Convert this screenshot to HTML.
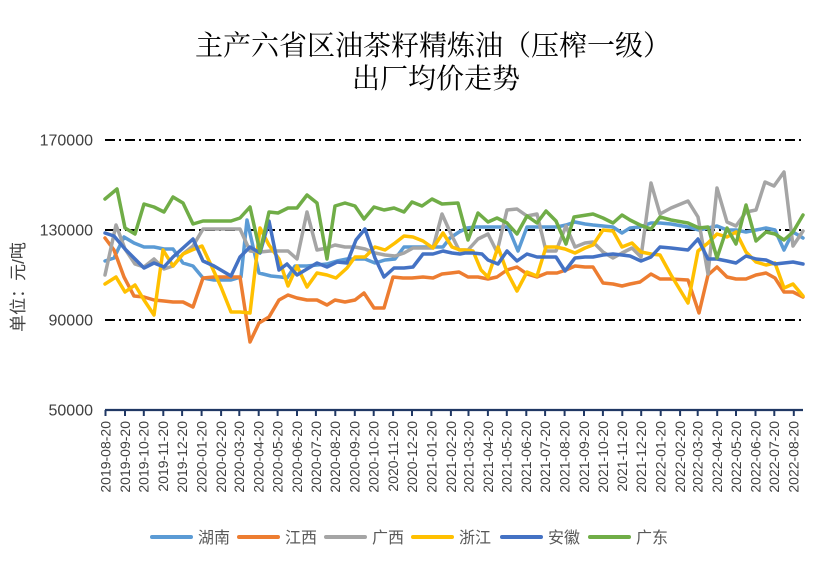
<!DOCTYPE html>
<html><head><meta charset="utf-8"><style>
html,body{margin:0;padding:0;background:#fff;}
svg{display:block;}
.t{font-family:"Noto Serif CJK SC","Liberation Serif",serif;font-size:28px;fill:#000;}
.yl{font-family:"Liberation Sans",sans-serif;font-size:16px;fill:#404040;}
.xl{font-family:"Liberation Sans",sans-serif;font-size:14px;fill:#404040;}
.lg{font-family:"Liberation Sans","Noto Sans CJK SC",sans-serif;font-size:16px;fill:#595959;}
.s{fill:none;stroke-width:3.5;stroke-linejoin:round;stroke-linecap:round;}
</style></head><body>
<svg width="825" height="568" viewBox="0 0 825 568" xmlns="http://www.w3.org/2000/svg">
<rect width="825" height="568" fill="#fff"/>
<text class="t" x="195" y="55">主产六省区油茶籽精炼油（压榨一级）</text>
<text class="t" x="352" y="88">出厂均价走势</text>

<g stroke="#000" stroke-width="2" stroke-dasharray="10,4,2,4">
<line x1="105" y1="140" x2="805" y2="140"/>
<line x1="105" y1="230" x2="805" y2="230"/>
<line x1="105" y1="320" x2="805" y2="320"/>
</g>

<g class="yl" text-anchor="end">
<text x="93" y="145.5">170000</text>
<text x="93" y="235.5">130000</text>
<text x="93" y="325.5">90000</text>
<text x="93" y="415.5">50000</text>
</g>
<text class="lg" style="font-size:17px;fill:#404040" transform="translate(24,287) rotate(-90)" text-anchor="middle">单位：元/吨</text>

<polyline class="s" stroke="#5B9BD5" points="105,261 114,258 124,237 134,243 144,247 154,247 164,249 173,249 183,263 193,266 203,278 214,280 231,280 241,277 247,220 259,273 271,276 281,277 287,278 295,266 307,266 317,265 327,264 337,261 347,259 357,259 365,259 375,263 385,260 395,259 404,247 413,247 423,247 433,247 443,247 450,238 459,232 467,228 475,227 488,227 498,227 508,227 518,251 527,227 537,227 547,227 557,227 566,225 575,222 585,224 593,225 603,226 613,227 622,233 630,228 640,227 651,223 660,223 671,224 688,227 699,230 708,228 717,226 727,230 736,230 746,232 756,230 766,228 775,230 784,250 793,232 803,238"/>
<polyline class="s" stroke="#ED7D31" points="105,238 114,250 124,277 134,296 144,297 154,300 164,301 173,302 183,302 193,307 203,278 214,277 231,277 240,277 250,342 259,323 269,317 279,300 288,295 297,298 307,300 317,300 327,305 335,300 345,302 355,300 364,293 374,308 384,308 393,277 403,278 412,278 423,277 433,278 442,274 451,273 459,272 468,277 478,277 488,279 497,277 507,270 517,267 527,274 537,277 547,273 557,273 566,270 575,266 585,267 593,267 603,283 613,284 622,286 630,284 640,282 651,274 660,279 671,279 688,280 699,313 708,275 717,267 727,277 736,279 746,279 756,275 766,273 775,278 784,292 793,292 803,297"/>
<polyline class="s" stroke="#A5A5A5" points="105,275 116,225 125,249 135,264 144,267 154,259 164,269 173,266 183,254 193,246 203,229 214,229 231,229 240,229 250,251 260,252 270,251 280,251 288,251 297,259 307,212 317,250 327,248 335,245 345,247 355,247 365,249 375,253 385,255 395,256 404,253 413,248 423,248 433,248 442,214 451,234 459,250 468,250 478,239 488,234 497,252 507,210 517,209 527,216 537,214 546,251 556,251 566,226 575,247 585,243 593,242 603,252 613,258 622,253 632,248 641,257 651,183 660,214 671,208 688,201 698,217 708,274 717,188 727,222 736,226 746,212 756,210 765,182 774,186 784,172 793,246 803,231"/>
<polyline class="s" stroke="#FFC000" points="105,284 116,277 125,292 135,285 144,300 154,315 163,250 173,266 183,254 192,250 202,246 211,265 221,287 231,312 240,312 250,313 260,228 269,245 279,259 288,286 297,266 307,287 317,273 327,275 336,278 347,268 355,257 365,257 375,247 385,250 395,243 404,236 413,237 423,241 433,248 443,233 452,247 460,250 465,250 473,251 481,270 488,277 498,247 507,272 517,291 527,272 537,276 546,247 556,247 565,249 575,253 585,248 593,245 603,230 613,231 622,247 632,243 641,252 651,254 660,255 671,275 688,303 698,251 708,243 717,234 727,237 736,232 746,252 756,262 766,265 775,263 784,288 793,284 803,296"/>
<polyline class="s" stroke="#4472C4" points="105,233 114,236 125,249 135,259 144,268 154,263 164,267 173,257 183,248 193,239 203,261 214,266 231,276 240,257 250,247 260,253 269,221 279,270 287,264 297,275 307,269 317,263 327,267 337,262 347,263 356,240 365,229 375,258 384,277 394,268 404,268 413,267 423,254 433,254 443,251 452,253 460,254 465,253 473,253 482,254 488,260 498,264 507,251 517,261 527,254 537,257 547,257 556,257 565,271 575,258 585,257 593,257 603,255 613,254 622,255 630,256 641,261 651,257 660,247 671,248 688,250 698,239 708,259 717,259 727,261 736,263 746,256 756,259 766,260 775,264 784,263 793,262 803,264"/>
<polyline class="s" stroke="#70AD47" points="105,199 117,189 125,228 135,234 144,204 154,207 164,212 173,197 183,203 193,224 203,221 214,221 231,221 240,218 250,207 260,252 269,212 278,213 288,208 297,208 307,195 317,203 327,259 335,206 345,203 355,206 364,219 374,207 384,210 394,208 404,212 412,202 422,206 432,199 442,204 458,203 468,240 478,213 488,222 497,218 507,223 517,234 527,216 537,223 546,211 556,221 566,244 574,217 593,214 603,218 613,223 622,215 630,220 640,225 651,229 660,217 671,220 688,223 699,228 708,227 717,258 727,228 736,244 746,205 756,241 766,232 775,234 784,240 793,232 803,215"/>

<line x1="105" y1="410" x2="803" y2="410" stroke="#203864" stroke-width="2.2"/>
<g stroke="#203864" stroke-width="2">
<line x1="105.5" y1="410" x2="105.5" y2="416"/><line x1="125" y1="410" x2="125" y2="416"/><line x1="143.8" y1="410" x2="143.8" y2="416"/><line x1="163.3" y1="410" x2="163.3" y2="416"/><line x1="182.1" y1="410" x2="182.1" y2="416"/><line x1="201.6" y1="410" x2="201.6" y2="416"/><line x1="221.1" y1="410" x2="221.1" y2="416"/><line x1="239.3" y1="410" x2="239.3" y2="416"/><line x1="258.7" y1="410" x2="258.7" y2="416"/><line x1="277.6" y1="410" x2="277.6" y2="416"/><line x1="297" y1="410" x2="297" y2="416"/><line x1="315.9" y1="410" x2="315.9" y2="416"/><line x1="335.3" y1="410" x2="335.3" y2="416"/><line x1="354.8" y1="410" x2="354.8" y2="416"/><line x1="373.7" y1="410" x2="373.7" y2="416"/><line x1="393.1" y1="410" x2="393.1" y2="416"/><line x1="412" y1="410" x2="412" y2="416"/><line x1="431.4" y1="410" x2="431.4" y2="416"/><line x1="450.9" y1="410" x2="450.9" y2="416"/><line x1="468.5" y1="410" x2="468.5" y2="416"/><line x1="487.9" y1="410" x2="487.9" y2="416"/><line x1="506.8" y1="410" x2="506.8" y2="416"/><line x1="526.3" y1="410" x2="526.3" y2="416"/><line x1="545.1" y1="410" x2="545.1" y2="416"/><line x1="564.6" y1="410" x2="564.6" y2="416"/><line x1="584" y1="410" x2="584" y2="416"/><line x1="602.9" y1="410" x2="602.9" y2="416"/><line x1="622.3" y1="410" x2="622.3" y2="416"/><line x1="641.2" y1="410" x2="641.2" y2="416"/><line x1="660.7" y1="410" x2="660.7" y2="416"/><line x1="680.1" y1="410" x2="680.1" y2="416"/><line x1="697.7" y1="410" x2="697.7" y2="416"/><line x1="717.2" y1="410" x2="717.2" y2="416"/><line x1="736" y1="410" x2="736" y2="416"/><line x1="755.5" y1="410" x2="755.5" y2="416"/><line x1="774.3" y1="410" x2="774.3" y2="416"/><line x1="793.8" y1="410" x2="793.8" y2="416"/>
</g>

<g class="xl" text-anchor="end">
<text transform="translate(105.5,421) rotate(-90)" dy="0.35em">2019-08-20</text>
<text transform="translate(125,421) rotate(-90)" dy="0.35em">2019-09-20</text>
<text transform="translate(143.8,421) rotate(-90)" dy="0.35em">2019-10-20</text>
<text transform="translate(163.3,421) rotate(-90)" dy="0.35em">2019-11-20</text>
<text transform="translate(182.1,421) rotate(-90)" dy="0.35em">2019-12-20</text>
<text transform="translate(201.6,421) rotate(-90)" dy="0.35em">2020-01-20</text>
<text transform="translate(221.1,421) rotate(-90)" dy="0.35em">2020-02-20</text>
<text transform="translate(239.3,421) rotate(-90)" dy="0.35em">2020-03-20</text>
<text transform="translate(258.7,421) rotate(-90)" dy="0.35em">2020-04-20</text>
<text transform="translate(277.6,421) rotate(-90)" dy="0.35em">2020-05-20</text>
<text transform="translate(297,421) rotate(-90)" dy="0.35em">2020-06-20</text>
<text transform="translate(315.9,421) rotate(-90)" dy="0.35em">2020-07-20</text>
<text transform="translate(335.3,421) rotate(-90)" dy="0.35em">2020-08-20</text>
<text transform="translate(354.8,421) rotate(-90)" dy="0.35em">2020-09-20</text>
<text transform="translate(373.7,421) rotate(-90)" dy="0.35em">2020-10-20</text>
<text transform="translate(393.1,421) rotate(-90)" dy="0.35em">2020-11-20</text>
<text transform="translate(412,421) rotate(-90)" dy="0.35em">2020-12-20</text>
<text transform="translate(431.4,421) rotate(-90)" dy="0.35em">2021-01-20</text>
<text transform="translate(450.9,421) rotate(-90)" dy="0.35em">2021-02-20</text>
<text transform="translate(468.5,421) rotate(-90)" dy="0.35em">2021-03-20</text>
<text transform="translate(487.9,421) rotate(-90)" dy="0.35em">2021-04-20</text>
<text transform="translate(506.8,421) rotate(-90)" dy="0.35em">2021-05-20</text>
<text transform="translate(526.3,421) rotate(-90)" dy="0.35em">2021-06-20</text>
<text transform="translate(545.1,421) rotate(-90)" dy="0.35em">2021-07-20</text>
<text transform="translate(564.6,421) rotate(-90)" dy="0.35em">2021-08-20</text>
<text transform="translate(584,421) rotate(-90)" dy="0.35em">2021-09-20</text>
<text transform="translate(602.9,421) rotate(-90)" dy="0.35em">2021-10-20</text>
<text transform="translate(622.3,421) rotate(-90)" dy="0.35em">2021-11-20</text>
<text transform="translate(641.2,421) rotate(-90)" dy="0.35em">2021-12-20</text>
<text transform="translate(660.7,421) rotate(-90)" dy="0.35em">2022-01-20</text>
<text transform="translate(680.1,421) rotate(-90)" dy="0.35em">2022-02-20</text>
<text transform="translate(697.7,421) rotate(-90)" dy="0.35em">2022-03-20</text>
<text transform="translate(717.2,421) rotate(-90)" dy="0.35em">2022-04-20</text>
<text transform="translate(736,421) rotate(-90)" dy="0.35em">2022-05-20</text>
<text transform="translate(755.5,421) rotate(-90)" dy="0.35em">2022-06-20</text>
<text transform="translate(774.3,421) rotate(-90)" dy="0.35em">2022-07-20</text>
<text transform="translate(793.8,421) rotate(-90)" dy="0.35em">2022-08-20</text>
</g>

<g stroke-width="4" stroke-linecap="round">
<line x1="152" y1="537" x2="191" y2="537" stroke="#5B9BD5"/>
<line x1="239" y1="537" x2="278" y2="537" stroke="#ED7D31"/>
<line x1="326" y1="537" x2="365" y2="537" stroke="#A5A5A5"/>
<line x1="413" y1="537" x2="452" y2="537" stroke="#FFC000"/>
<line x1="502" y1="537" x2="541" y2="537" stroke="#4472C4"/>
<line x1="590" y1="537" x2="629" y2="537" stroke="#70AD47"/>
</g>
<g class="lg">
<text x="198" y="543">湖南</text>
<text x="285" y="543">江西</text>
<text x="372" y="543">广西</text>
<text x="459" y="543">浙江</text>
<text x="548" y="543">安徽</text>
<text x="636" y="543">广东</text>
</g>
</svg>
</body></html>
